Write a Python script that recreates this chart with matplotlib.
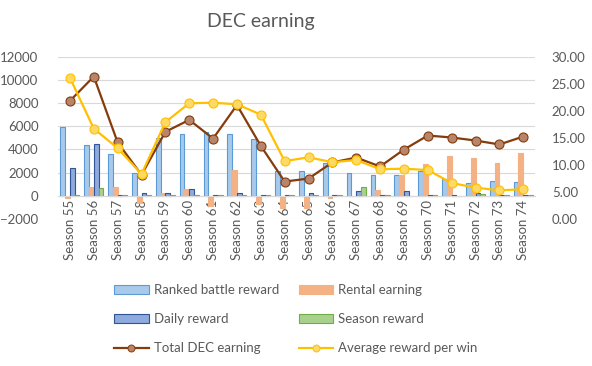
import matplotlib
matplotlib.use("Agg")
import matplotlib.pyplot as plt
from matplotlib.lines import Line2D
import numpy as np

plt.rcParams['font.family'] = ['Lato', 'DejaVu Sans']

# Daten
seasons = ["Season %d" % s for s in range(55, 75)]
ranked = [5950, 4370, 3600, 1980, 5000, 5310, 5540, 5310, 4890, 2180,
          2100, 2810, 1950, 1810, 1810, 2100, 1440, 1090, 1290, 1180]
rental = [-200, 780, 780, -580, 230, 600, -840, 2240, -720, -1010,
          -1010, -200, -50, 520, 1810, 2760, 3450, 3280, 2850, 3710]
daily = [2390, 4460, 100, 230, 230, 600, 50, 230, 50, 100,
         230, 50, 400, 50, 400, 50, 100, 230, 50, 100]
season_rw = [50, 700, 50, 30, 50, 50, 50, 50, 50, 50,
             40, 50, 780, 50, 20, 50, 0, 150, 50, 50]
total = [8190, 10290, 4600, 1810, 5520, 6550, 4940, 7830, 4310, 1230,
         1490, 2880, 3300, 2530, 3990, 5200, 5030, 4770, 4430, 5110]
avg_win = [26.1, 16.7, 13.1, 8.3, 17.9, 21.4, 21.5, 21.2, 19.3, 10.7,
           11.4, 10.5, 10.9, 9.2, 9.3, 9.05, 6.65, 5.8, 5.3, 5.5]

grey = '#595959'
grid_c = '#D9D9D9'

fig = plt.figure(figsize=(5.92, 3.66), dpi=100)
ax = fig.add_axes([0.098, 0.4016, 0.806, 0.4435])
ax2 = ax.twinx()

x = np.arange(len(seasons))
w = 0.2
b1 = ax.bar(x - 1.5 * w, ranked, w, color='#A9C9EA', edgecolor='#5B9BD5', linewidth=0.8, label='Ranked battle reward', zorder=2)
b2 = ax.bar(x - 0.5 * w, rental, w, color='#F4B183', edgecolor='#F4B183', linewidth=0.8, label='Rental earning', zorder=2)
b3 = ax.bar(x + 0.5 * w, daily, w, color='#8FAADC', edgecolor='#2F5597', linewidth=0.8, label='Daily reward', zorder=2)
b4 = ax.bar(x + 1.5 * w, season_rw, w, color='#A9D18E', edgecolor='#70AD47', linewidth=0.8, label='Season reward', zorder=2)
ax.plot(x, total, color='#843C0C', linewidth=1.6, marker='o', markersize=6.5,
        markerfacecolor='#B8846A', markeredgecolor='#843C0C', markeredgewidth=0.8, zorder=4)
ax2.plot(x, avg_win, color='#FFC000', linewidth=1.6, marker='o', markersize=6.5,
         markerfacecolor='#FFD966', markeredgecolor='#FFC000', markeredgewidth=0.8, zorder=4)

# kleinere Marker in der Legende
l1 = Line2D([], [], color='#843C0C', linewidth=1.6, marker='o', markersize=5,
            markerfacecolor='#B8846A', markeredgecolor='#843C0C', markeredgewidth=0.7,
            label='Total DEC earning')
l2 = Line2D([], [], color='#FFC000', linewidth=1.6, marker='o', markersize=5,
            markerfacecolor='#FFD966', markeredgecolor='#FFC000', markeredgewidth=0.7,
            label='Average reward per win')

ax.set_xlim(-0.5, len(seasons) - 0.5)
ax.set_ylim(-2000, 12000)
ax.set_yticks(range(-2000, 12001, 2000))
ax2.set_ylim(0, 30)
ax2.set_yticks(range(0, 31, 5))
ax2.set_yticklabels(["%.2f" % v for v in range(0, 31, 5)])

ax.grid(axis='y', color=grid_c, linewidth=0.8, zorder=0)
ax.set_axisbelow(True)
for a in (ax, ax2):
    for s in ['top', 'right', 'left', 'bottom']:
        a.spines[s].set_visible(False)
    a.tick_params(axis='both', length=0, colors=grey, labelsize=9.5)
ax.spines['bottom'].set_visible(True)
ax.spines['bottom'].set_position(('data', 0))
ax.spines['bottom'].set_color(grid_c)
ax.set_xticks(x)
ax.set_xticklabels(seasons, rotation=90, color=grey, fontsize=9.5)
ax.tick_params(axis='x', pad=3)
ax.tick_params(axis='y', pad=14)
ax2.tick_params(axis='y', pad=12)

fig.text(0.44, 0.94, 'DEC earning', ha='center', va='center', fontsize=14, color=grey)

handles = [b1, b3, l1, b2, b4, l2]
leg = fig.legend(handles, [h.get_label() for h in handles], ncol=2, loc='center',
                 bbox_to_anchor=(0.5, 0.128), frameon=False, fontsize=9.5,
                 labelcolor=grey, handlelength=2.6, handletextpad=0.4,
                 columnspacing=1.5, labelspacing=1.3)

fig.savefig('out.png', dpi=100)
